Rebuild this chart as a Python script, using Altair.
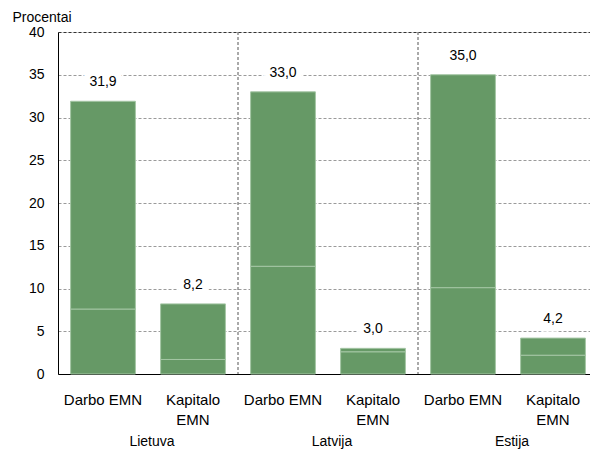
import altair as alt
import pandas as pd

countries = ["Lietuva", "Latvija", "Estija"]
kinds = ["Darbo EMN", "Kapitalo EMN"]
totals = [31.9, 8.2, 33.0, 3.0, 35.0, 4.2]
lower_parts = [7.6, 1.7, 12.6, 2.6, 10.1, 2.2]
y_ticks = [0, 5, 10, 15, 20, 25, 30, 35, 40]

keys = [f"{c} {k}" for c in countries for k in kinds]

rows = []
for key, t, l in zip(keys, totals, lower_parts):
    rows.append({"key": key, "order": 1, "value": l})
    rows.append({"key": key, "order": 2, "value": round(t - l, 1)})
bars_df = pd.DataFrame(rows)
tot_df = pd.DataFrame({"key": keys, "value": totals})
grp_df = pd.DataFrame({"key": [f"{c} Darbo EMN" for c in countries], "country": countries})
sep_df = pd.DataFrame({"key": [f"{c} Kapitalo EMN" for c in countries[:2]]})

FONT = "Liberation Sans"
xscale = alt.Scale(domain=keys, paddingInner=0, paddingOuter=0)
yscale = alt.Scale(domain=[0, 40], nice=False)

xaxis = alt.Axis(
    title=None,
    labelExpr="indexof(datum.value,'Darbo')>=0 ? 'Darbo EMN' : ['Kapitalo','EMN']",
    labelAngle=0, labelFontSize=15, labelPadding=18, labelLineHeight=20,
    ticks=False, domainColor="black", labelColor="black", labelFont=FONT,
    grid=False, labelOverlap=False, labelLimit=200,
)
yaxis = alt.Axis(
    values=y_ticks, title="Procentai", titleAngle=0, titleAlign="left",
    titleBaseline="alphabetic", titleX=-46, titleY=-11, titleFontSize=14,
    titleFontWeight="normal", titleFont=FONT, titleColor="black",
    labelFontSize=14, labelFont=FONT, labelColor="black", labelPadding=14,
    ticks=False, grid=True, gridDash=[3, 2], gridWidth=1,
    gridColor={"condition": {"test": "datum.value === 40", "value": "#333333"}, "value": "#9a9a9a"},
    domainColor="black",
)

X = lambda **kw: alt.X("key:N", sort=keys, scale=xscale, axis=xaxis, **kw)

bars = alt.Chart(bars_df).mark_bar(
    width={"band": 0.72}, color="#669966", stroke="#a4c6a4", strokeWidth=1
).encode(
    x=X(),
    y=alt.Y("value:Q", stack="zero", scale=yscale, axis=yaxis),
    order=alt.Order("order:Q"),
)

seps = alt.Chart(sep_df).mark_rule(color="#555555", strokeDash=[3, 2], strokeWidth=1).encode(
    x=X(bandPosition=1),
    y=alt.datum(40),
    y2=alt.datum(0),
)

label_expr = "replace(format(datum.value, '.1f'), '.', ',')"

halo = alt.Chart(tot_df).transform_calculate(label=label_expr).mark_text(
    fontSize=14, font=FONT, dy=-19, color="white", stroke="white", strokeWidth=13
).encode(
    x=X(),
    y=alt.Y("value:Q", scale=yscale, axis=yaxis),
    text="label:N",
)

labels = alt.Chart(tot_df).transform_calculate(label=label_expr).mark_text(
    fontSize=14, font=FONT, dy=-19, color="black"
).encode(
    x=X(),
    y=alt.Y("value:Q", scale=yscale, axis=yaxis),
    text="label:N",
)

groups = alt.Chart(grp_df).mark_text(
    fontSize=14, font=FONT, baseline="alphabetic", dx=4, color="black"
).encode(
    x=X(bandPosition=1),
    y=alt.value(414),
    text="country:N",
)

chart = alt.layer(bars, seps, halo, labels, groups).properties(
    width=540, height=342,
    autosize=alt.AutoSizeParams(type="none"),
    padding={"left": 50, "top": 24, "right": -8, "bottom": 75},
).configure_view(stroke=None).configure(font=FONT)

chart.save("out.html", embed_options={"renderer": "svg", "actions": False})
